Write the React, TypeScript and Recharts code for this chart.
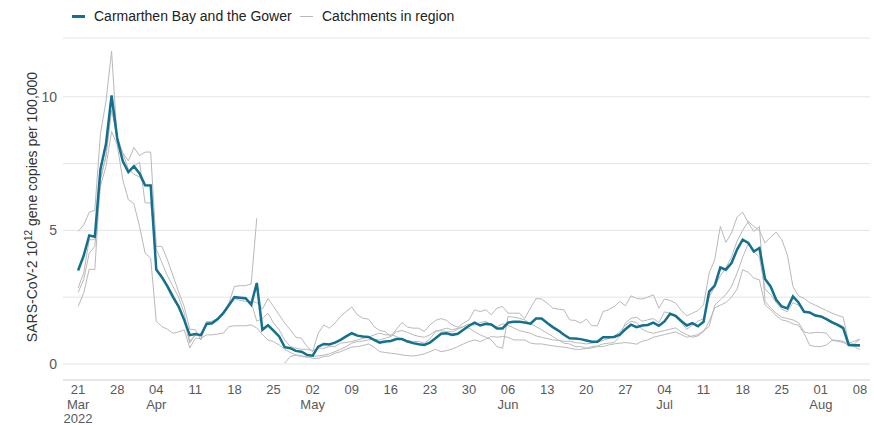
import { LineChart, Line, XAxis, YAxis, CartesianGrid } from 'recharts';

const FONT = '"Liberation Sans", Arial, sans-serif';
const BLUE = '#13708e';
const GREY = '#b9b9b9';

// day 0 = 21 Mar 2022
const START = new Date(2022, 2, 21);
const MONTHS = ['Jan', 'Feb', 'Mar', 'Apr', 'May', 'Jun', 'Jul', 'Aug', 'Sep', 'Oct', 'Nov', 'Dec'];

const carmarthen = [
  3.5, 4.05, 4.81, 4.76, 7.28, 8.24, 10.05, 8.46, 7.59, 7.18, 7.4, 7.13, 6.69, 6.68,
  3.53, 3.25, 2.9, 2.5, 2.15, 1.65, 1.08,
  1.12, 1.08, 1.5, 1.52, 1.68, 1.9, 2.2, 2.5, 2.48, 2.46, 2.22, 3.03,
  1.28, 1.45, 1.25, 1.03, 0.63, 0.59, 0.49, 0.46, 0.34, 0.31, 0.65, 0.75, 0.73, 0.8, 0.9, 1.03,
  1.15, 1.06, 1.03, 1.01, 0.9, 0.8, 0.84, 0.86, 0.93, 0.93, 0.84, 0.78, 0.74, 0.71, 0.8, 0.96,
  1.13, 1.15, 1.09, 1.13, 1.28, 1.43, 1.55, 1.44, 1.5, 1.48, 1.33, 1.33, 1.55, 1.58, 1.58, 1.55,
  1.51, 1.7, 1.7, 1.53, 1.38, 1.25, 1.09, 0.96, 0.95, 0.93, 0.88, 0.83, 0.83, 1.0, 1.0, 1.01,
  1.1, 1.3, 1.47, 1.38, 1.44, 1.46, 1.55, 1.43, 1.59, 1.88, 1.8, 1.61, 1.44, 1.53, 1.41, 1.58,
  2.71, 2.93, 3.61, 3.53, 3.78, 4.28, 4.65, 4.53, 4.21, 4.34,
  3.18, 2.9, 2.4, 2.15, 2.08, 2.53, 2.3, 1.95, 1.93, 1.81, 1.78, 1.68, 1.56, 1.46, 1.34, 0.71, 0.7, 0.7,
];

const catchmentA = [
  4.96, 5.2, 5.68, 5.75, 8.6, 9.84, 11.7, 8.4, 7.9, 7.6, 8.1, 7.8, 7.93, 7.93,
  4.4, 4.4, 3.9, 3.3, 2.7, 2.15, 1.3,
  1.28, 0.9, 1.59, 1.59, 1.71, 1.96, 2.2, 2.45, 2.38, 2.34, 2.34, 2.3,
  2.05, 2.45, 2.15, 1.84, 1.53, 1.28, 1.0, 0.96, 0.65, 0.46, 1.15, 1.46, 1.34, 1.53, 1.78, 1.96,
  2.13, 1.84, 1.71, 1.68, 1.4, 1.25, 1.21, 1.03, 1.3, 1.55, 1.38, 1.34, 1.34, 1.21, 1.46, 1.63,
  1.7, 1.63,
  1.46, 1.38, 1.53, 1.65, 2.03, 1.96, 2.03, 1.84, 2.09, 2.15, 1.9, 1.9, 1.9, 1.71, 2.09, 2.45,
  2.43, 2.28, 2.09, 2.05, 2.03, 1.65, 1.63, 1.53, 1.68, 1.43, 1.43, 1.96, 2.03, 2.15, 2.34, 2.18,
  2.55, 2.45,
  2.43, 2.5, 2.59, 2.09, 2.43, 2.38, 2.28, 2.0, 1.8, 1.9, 2.0, 2.21,
  3.4, 3.9, 5.15, 4.55, 4.9, 5.5, 5.68, 5.28, 4.96, 5.15,
  2.35, 2.1, 1.9, 1.75, 1.7, 1.65, 1.55, 1.2, 1.15, 1.18, 1.18, 1.15, 0.9, 0.88, 0.85, 0.75, 0.75, 0.93,
];

const catchmentB = [
  2.84, 3.4, 4.65, 4.65, 6.9, 7.78, 9.9, 8.3, 7.65, 7.15, 7.4, 7.55, 6.03, 6.03,
  4.3, 3.8, 3.3, 2.9, 2.5, 1.9, 0.85,
  1.09, 1.09, 1.52, 1.55, 1.65, 1.9, 2.2, 2.5, 2.45, 2.42, 2.3, 1.6,
  1.7, 1.9, 1.53, 1.28, 0.9, 0.65, 0.59, 0.55, 0.55, 0.5, 0.59, 0.59, 0.65, 0.65, 0.78, 0.8,
  0.84, 0.9, 0.96, 1.0, 1.09, 1.15, 1.09, 1.09, 1.03, 0.9, 0.88, 0.84, 0.84, 0.78, 0.93, 1.21,
  1.28, 1.34,
  1.28, 1.34, 1.4, 1.34, 1.21, 1.09, 1.0, 0.9, 0.65, 0.59, 1.78, 1.75, 1.71, 1.65, 1.5, 1.4,
  1.28, 1.15, 1.03, 0.9, 0.78, 0.75, 0.65, 0.65, 0.59, 0.65, 0.68, 0.75, 0.78, 0.8, 1.03, 1.53,
  1.71, 1.75,
  1.6, 1.65, 1.7, 1.55, 1.95, 1.9, 1.75, 1.55, 1.3, 1.45, 1.6, 1.7,
  2.5, 2.9, 3.3, 3.6, 4.0, 4.6, 5.0, 5.33, 5.15, 5.0,
  4.53, 4.75, 4.93, 4.65, 4.09, 2.9, 2.55, 2.45, 2.3, 2.2, 2.1, 2.0, 1.9, 1.82, 1.75, 0.78, 0.85, 0.93,
];

const catchmentC = [
  2.68, 3.15, 4.15, 4.4, 6.65, 7.4, 8.7, 8.2, 6.9, 6.15, 6.0, 5.15, 4.15, 3.96,
  1.6, 1.4, 1.3, 1.15, 1.2, 1.28, 0.6,
  0.96, 0.96, 1.09, 1.09, 1.12, 1.15, 1.4, 1.43, 1.43, 1.43, 1.46, 1.35,
  1.1, 0.9, 0.84, 0.71, 0.55, 0.43, 0.34, 0.3, 0.28, 0.21, 0.21, 0.28, 0.3, 0.4, 0.46, 0.55,
  0.63, 0.65, 0.69, 0.75, 0.63, 0.46, 0.43, 0.4, 0.38, 0.34, 0.31, 0.3, 0.33, 0.38, 0.46, 0.55,
  0.46, 0.5,
  0.56, 0.65, 0.75, 0.84, 0.9, 0.84, 0.93, 1.03, 1.0, 1.03, 1.0, 0.9, 0.9, 0.9, 0.78, 0.75,
  0.75, 0.71, 0.68, 0.65, 0.63, 0.59, 0.55, 0.55, 0.58, 0.6, 0.65, 0.65, 0.71, 0.75, 0.78, 0.8,
  0.78, 0.74,
  0.85, 0.9, 1.0, 1.05, 1.1, 1.15, 1.2, 1.1, 1.0, 1.05, 1.1, 1.25,
  1.4, 2.2, 2.4, 2.6, 2.9, 3.4, 4.0, 4.5, 4.2, 4.0,
  2.8, 2.6, 2.3, 2.05, 1.95, 2.3, 2.2, 2.0, 1.9, 1.85, 1.8, 1.7, 1.6, 1.5, 1.4, 0.7, 0.68, 0.65,
];

// no samples 23-26 Apr
const catchmentD = [
  2.15, 2.65, 3.55, 3.53, 6.9, 7.8, 9.5, 8.5, 7.9, 7.3, 7.1, 7.0, 6.7, 6.7,
  3.6, 3.3, 2.95, 2.6, 2.2, 1.6, 0.78,
  1.1, 1.05, 1.55, 1.6, 1.7, 1.95, 2.28, 2.9, 2.93, 2.93, 3.0, 5.46,
  null, null, null, null,
  0.03, 0.28, 0.33, 0.28, 0.25, 0.28, 0.3, 0.33, 0.38, 0.46, 0.55, 0.65, 0.78, 0.84, 0.86, 0.9,
  0.92, 0.9, 0.96, 1.03, 1.21, 1.25, 1.18, 1.09, 1.03, 1.0, 1.09, 1.24, 1.24, 1.21,
  1.2, 1.3, 1.4, 1.5, 1.45, 1.55, 1.6, 1.45, 1.4, 1.5, 1.45, 1.35, 1.25, 1.2, 1.15, 1.05,
  1.0, 0.95, 0.9, 0.88, 0.85, 0.85, 0.8, 0.78, 0.75, 0.78, 0.82, 0.88, 0.95, 1.05, 1.2, 1.45,
  1.6, 1.55,
  1.3, 1.2, 1.15, 1.2, 1.25, 1.3, 1.35, 1.2, 1.1, 1.0, 1.05, 1.2,
  1.6, 2.1, 2.2, 2.3, 2.5, 2.8, 3.53, 3.43, 3.21, 3.15,
  2.21, 2.03, 1.8, 1.65, 1.6, 1.5, 1.45, 1.15, 0.7, 0.65, 0.65, 0.71, 0.88, 0.85, 0.8, 0.7, 0.65, 0.53,
];

const catchments = [catchmentA, catchmentB, catchmentC, catchmentD];

const xTicks = [0, 7, 14, 21, 28, 35, 42, 49, 56, 63, 70, 77, 84, 91, 98, 105, 112, 119, 126, 133, 140];
const yTicks = [0, 2.5, 5, 7.5, 10];
const yLabelled = [0, 5, 10];

const data = carmarthen.map((v, i) => ({
  day: i,
  main: v,
  c0: catchmentA[i],
  c1: catchmentB[i],
  c2: catchmentC[i],
  c3: catchmentD[i],
}));

function DateTick(props: any) {
  const { x, payload, index } = props;
  const d = new Date(START);
  d.setDate(d.getDate() + payload.value);
  const dd = String(d.getDate()).padStart(2, '0');
  const showMonth = index === 0 || d.getDate() <= 7;
  return (
    <g fill="#595959" fontSize={13} fontFamily={FONT} textAnchor="middle">
      <text x={x} y={394}>{dd}</text>
      {showMonth && <text x={x} y={408.5}>{MONTHS[d.getMonth()]}</text>}
      {index === 0 && <text x={x} y={422.5}>{d.getFullYear()}</text>}
    </g>
  );
}

function YTitle() {
  return (
    <text
      x={37}
      y={207}
      transform="rotate(-90, 37, 207)"
      textAnchor="middle"
      fill="#333"
      fontSize={14}
      fontFamily={FONT}
    >
      SARS-CoV-2 10
      <tspan dy={-5} fontSize={10}>12</tspan>
      <tspan dy={5}> gene copies per 100,000</tspan>
    </text>
  );
}

export default function App() {
  return (
    <div style={{ position: 'absolute', left: 0, top: 0, width: 874, height: 425, fontFamily: FONT }}>
      <div style={{ position: 'absolute', left: 72, top: 15, width: 13, height: 3, background: BLUE }} />
      <span style={{ position: 'absolute', left: 94, top: 8, fontSize: 14, lineHeight: '16px', color: '#222' }}>
        Carmarthen Bay and the Gower
      </span>
      <div style={{ position: 'absolute', left: 300, top: 16, width: 13, height: 1, background: GREY }} />
      <span style={{ position: 'absolute', left: 322, top: 8, fontSize: 14, lineHeight: '16px', color: '#222' }}>
        Catchments in region
      </span>
      <LineChart width={874} height={425} data={data} margin={{ top: 38, right: 4, bottom: 0, left: 0 }}>
        <CartesianGrid vertical={false} stroke="#e4e4e4" />
        <XAxis
          dataKey="day"
          type="number"
          domain={[-2.7, 141.8]}
          ticks={xTicks}
          interval={0}
          height={45}
          axisLine={{ stroke: '#dcdcdc' }}
          tickLine={false}
          tick={<DateTick />}
        />
        <YAxis
          type="number"
          domain={[-0.6, 12.2]}
          ticks={yTicks}
          interval={0}
          width={63}
          axisLine={false}
          tickLine={false}
          tickSize={0}
          tickMargin={6}
          tick={{ fill: '#595959', fontSize: 14, fontFamily: FONT }}
          tickFormatter={(v: number) => (yLabelled.includes(v) ? String(v) : '')}
          label={<YTitle />}
        />
        {catchments.map((_, k) => (
          <Line
            key={k}
            dataKey={`c${k}`}
            stroke={GREY}
            strokeWidth={1}
            dot={false}
            isAnimationActive={false}
            connectNulls={false}
          />
        ))}
        <Line dataKey="main" stroke={BLUE} strokeWidth={2.5} dot={false} isAnimationActive={false} />
      </LineChart>
    </div>
  );
}
